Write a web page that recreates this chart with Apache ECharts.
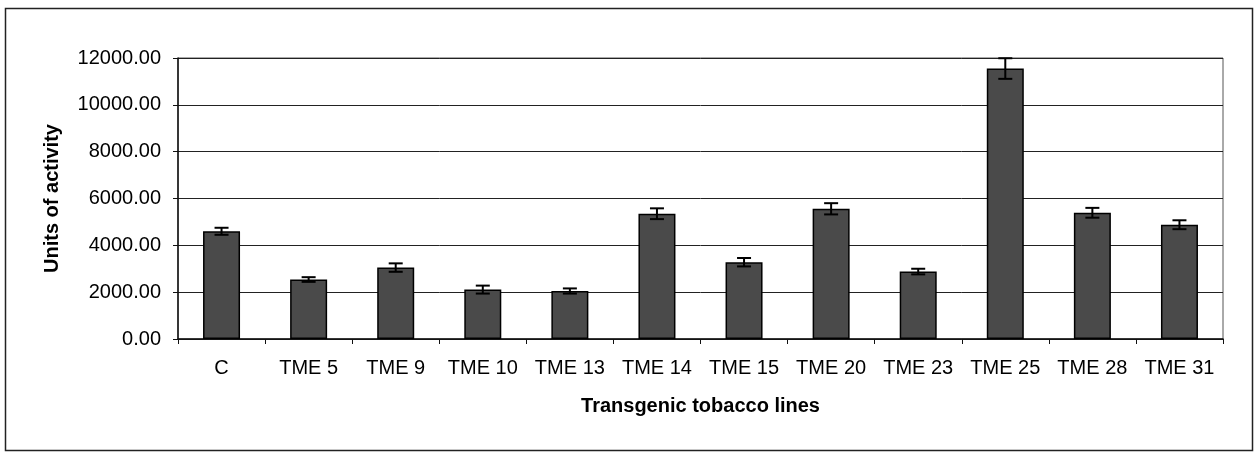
<!DOCTYPE html>
<html>
<head>
<meta charset="utf-8">
<script src="https://cdn.jsdelivr.net/npm/echarts@6/dist/echarts.min.js"></script>
<style>
  html, body { margin: 0; padding: 0; background: #fff; }
  #main { width: 1256px; height: 452px; }
</style>
</head>
<body>
<div id="main"></div>
<script>
const categories = ['C', 'TME 5', 'TME 9', 'TME 10', 'TME 13', 'TME 14', 'TME 15', 'TME 20', 'TME 23', 'TME 25', 'TME 28', 'TME 31'];
const activity = [4600, 2540, 3050, 2110, 2050, 5350, 3280, 5560, 2880, 11550, 5390, 4880];
const errors = [150, 100, 180, 170, 110, 230, 180, 240, 120, 440, 210, 190];
const yTicks = [0, 2000, 4000, 6000, 8000, 10000, 12000];

const chart = echarts.init(document.getElementById('main'));
const font = 'Liberation Sans, Arial, sans-serif';

const errData = activity.map((v, i) => [i, v - errors[i], v + errors[i]]);

const option = {
    animation: false,
    textStyle: { fontFamily: font },
    graphic: [{
        type: 'rect',
        shape: { x: 5.5, y: 8.5, width: 1247, height: 442 },
        style: { fill: null, stroke: '#222', lineWidth: 1.5 },
        z: -1
    }],
    grid: {
        left: 178, right: 33, top: 58, bottom: 113,
        show: true, borderColor: '#555', borderWidth: 1
    },
    xAxis: {
        type: 'category',
        data: categories,
        name: 'Transgenic tobacco lines',
        nameLocation: 'middle',
        nameGap: 57,
        nameTextStyle: { fontSize: 20, fontWeight: 'bold', color: '#000', fontFamily: font },
        axisLine: { lineStyle: { color: '#111', width: 1.5 } },
        axisTick: { show: true, length: 5, lineStyle: { color: '#111' } },
        axisLabel: { interval: 0, fontSize: 20, color: '#000', margin: 19, fontFamily: font }
    },
    yAxis: {
        type: 'value',
        min: yTicks[0],
        max: yTicks[yTicks.length - 1],
        interval: 2000,
        name: 'Units of activity',
        nameLocation: 'middle',
        nameGap: 116,
        nameTextStyle: { fontSize: 20, fontWeight: 'bold', color: '#000', fontFamily: font },
        axisLine: { show: true, lineStyle: { color: '#111', width: 1.5 } },
        axisTick: { show: true, length: 5, lineStyle: { color: '#111' } },
        axisLabel: {
            fontSize: 20, color: '#000', margin: 17, fontFamily: font,
            formatter: v => v.toFixed(2)
        },
        splitLine: { lineStyle: { color: '#222', width: 1 } }
    },
    series: [{
        type: 'bar',
        data: activity,
        barWidth: 37,
        itemStyle: { color: '#4a4a4a', borderColor: '#000', borderWidth: 1.5 }
    }, {
        type: 'custom',
        data: errData,
        z: 10,
        renderItem: function (params, api) {
            const lo = api.coord([api.value(0), api.value(1)]);
            const hi = api.coord([api.value(0), api.value(2)]);
            const cap = 7;
            const st = { stroke: '#000', lineWidth: 2 };
            return {
                type: 'group',
                children: [
                    { type: 'line', shape: { x1: hi[0], y1: hi[1], x2: lo[0], y2: lo[1] }, style: st },
                    { type: 'line', shape: { x1: hi[0] - cap, y1: hi[1], x2: hi[0] + cap, y2: hi[1] }, style: st },
                    { type: 'line', shape: { x1: lo[0] - cap, y1: lo[1], x2: lo[0] + cap, y2: lo[1] }, style: st }
                ]
            };
        }
    }]
};

chart.setOption(option);
</script>
</body>
</html>
